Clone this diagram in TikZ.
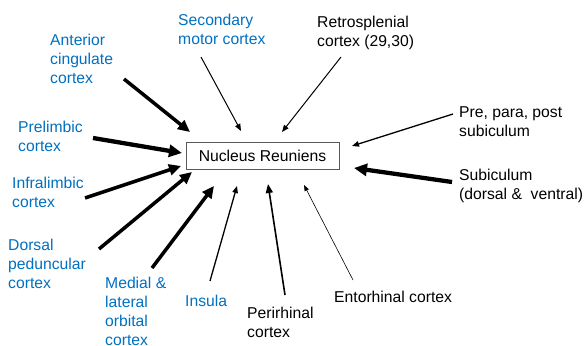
\documentclass[tikz,border=0pt]{standalone}
\usepackage{fontspec}
\setmainfont{Liberation Sans}
\usepackage{tikz}
\usetikzlibrary{arrows.meta}
\definecolor{areablue}{RGB}{0,112,192}
\tikzset{
  area/.style={anchor=base west,align=left,inner sep=0pt,font=\fontsize{15.7}{19}\selectfont},
  bluearea/.style={area,text=areablue},
  faintarr/.style={line width=0.6pt,-{Triangle[length=6pt,width=4.5pt]}},
  thinarr/.style={line width=1pt,-{Triangle[length=7pt,width=5.5pt]}},
  midarr/.style={line width=1.6pt,-{Triangle[length=9pt,width=7pt]}},
  thickarr/.style={line width=3.5pt,-{Triangle[length=12pt,width=11pt]}},
  heavyarr/.style={line width=4.3pt,-{Triangle[length=13pt,width=12pt]}}
}
\begin{document}
\begin{tikzpicture}[x=1pt,y=-1pt]
        \useasboundingbox (0,0) rectangle (585,345);
        % target box
        \node[draw=black!65,line width=0.9pt,minimum width=153pt,minimum height=27pt,
              inner sep=0pt,font=\fontsize{15.7}{19}\selectfont] (nr) at (262.5,155.5) {Nucleus Reuniens};
        % input areas (anchored on the baseline of the last line)
        \node[bluearea] (acc) at (50,83) {Anterior\\cingulate\\cortex};
        \node[bluearea] (smc) at (178,45) {Secondary\\motor cortex};
        \node[area] (rsc) at (317,46) {Retrosplenial\\cortex (29,30)};
        \node[area] (ppp) at (459,136) {Pre, para, post\\subiculum};
        \node[area] (sub) at (459,199) {Subiculum\\(dorsal \&\ \ ventral)};
        \node[area] (ent) at (334,302) {Entorhinal cortex};
        \node[area] (prh) at (247,337) {Perirhinal\\cortex};
        \node[bluearea] (ins) at (185,306) {Insula};
        \node[bluearea] (mlo) at (105,345) {Medial \&\\lateral\\orbital\\cortex};
        \node[bluearea] (dp) at (8,288) {Dorsal\\peduncular\\cortex};
        \node[bluearea] (il) at (12,207) {Infralimbic\\cortex};
        \node[bluearea] (pl) at (18,151) {Prelimbic\\cortex};
        % arrow ends
        \coordinate (acc-t) at (124,79);  \coordinate (acc-h) at (190,132);
        \coordinate (smc-t) at (201,57);  \coordinate (smc-h) at (241,131);
        \coordinate (rsc-t) at (341,57);  \coordinate (rsc-h) at (282,132);
        \coordinate (ppp-t) at (453,114); \coordinate (ppp-h) at (352,146);
        \coordinate (sub-t) at (452,182); \coordinate (sub-h) at (354,168);
        \coordinate (ent-t) at (353,280); \coordinate (ent-h) at (304,185);
        \coordinate (prh-t) at (285,295); \coordinate (prh-h) at (268,184);
        \coordinate (ins-t) at (210,281); \coordinate (ins-h) at (237,186);
        \coordinate (mlo-t) at (152,268); \coordinate (mlo-h) at (214,186);
        \coordinate (dp-t) at (99,249);   \coordinate (dp-h) at (192,172);
        \coordinate (il-t) at (85,198);   \coordinate (il-h) at (181,166);
        \coordinate (pl-t) at (93,138);   \coordinate (pl-h) at (182,153);
        % projections
        \draw[thickarr] (acc-t) -- (acc-h);
        \draw[thinarr] (smc-t) -- (smc-h);
        \draw[thinarr] (rsc-t) -- (rsc-h);
        \draw[thinarr,line width=1.3pt] (ppp-t) -- (ppp-h);
        \draw[heavyarr] (sub-t) -- (sub-h);
        \draw[faintarr] (ent-t) -- (ent-h);
        \draw[midarr] (prh-t) -- (prh-h);
        \draw[thinarr,line width=1.3pt] (ins-t) -- (ins-h);
        \draw[thickarr] (mlo-t) -- (mlo-h);
        \draw[thickarr] (dp-t) -- (dp-h);
        \draw[thickarr] (il-t) -- (il-h);
        \draw[heavyarr] (pl-t) -- (pl-h);
\end{tikzpicture}
\end{document}
